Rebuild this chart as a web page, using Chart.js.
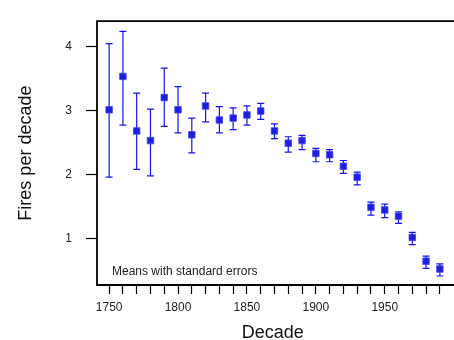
<!DOCTYPE html>
<html>
<head>
<meta charset="utf-8">
<style>
  html, body { margin: 0; padding: 0; background: #fff; }
  #wrap { width: 454px; height: 340px; }
</style>
<script src="https://cdn.jsdelivr.net/npm/chart.js@4"></script>
</head>
<body>
<div id="wrap"><canvas id="myChart" width="454" height="340"></canvas></div>
<script>
// decades and mean fires per decade, with the ends of the standard error bars
const decades = [1750, 1760, 1770, 1780, 1790, 1800, 1810, 1820, 1830, 1840, 1850, 1860, 1870,
                 1880, 1890, 1900, 1910, 1920, 1930, 1940, 1950, 1960, 1970, 1980, 1990];
const means = [3.01, 3.53, 2.68, 2.53, 3.20, 3.01, 2.62, 3.07, 2.85, 2.88, 2.93, 2.99, 2.68,
               2.49, 2.53, 2.33, 2.31, 2.13, 1.96, 1.49, 1.45, 1.35, 1.02, 0.65, 0.53];
const upper = [4.04, 4.23, 3.27, 3.02, 3.66, 3.37, 2.88, 3.27, 3.06, 3.04, 3.07, 3.11, 2.79,
               2.59, 2.61, 2.41, 2.39, 2.22, 2.04, 1.57, 1.54, 1.42, 1.10, 0.73, 0.61];
const lower = [1.96, 2.77, 2.08, 1.98, 2.75, 2.65, 2.34, 2.82, 2.65, 2.70, 2.77, 2.86, 2.56,
               2.35, 2.39, 2.20, 2.20, 2.02, 1.84, 1.37, 1.33, 1.24, 0.91, 0.54, 0.42];
const yTicks = [1, 2, 3, 4];
const xLabelYears = [1750, 1800, 1850, 1900, 1950];

const fontFam = "'Liberation Sans', Arial, sans-serif";

// error bars drawn under the points
const errorBars = {
    id: 'errorBars',
    beforeDatasetsDraw(chart) {
        const ctx = chart.ctx;
        const xs = chart.scales.x, ys = chart.scales.y;
        ctx.save();
        ctx.strokeStyle = '#1414f0';
        ctx.lineWidth = 1.2;
        decades.forEach((d, i) => {
            const x = xs.getPixelForValue(d);
            const yt = ys.getPixelForValue(upper[i]);
            const yb = ys.getPixelForValue(lower[i]);
            ctx.beginPath();
            ctx.moveTo(x, yt); ctx.lineTo(x, yb);
            ctx.moveTo(x - 3.5, yt); ctx.lineTo(x + 3.5, yt);
            ctx.moveTo(x - 3.5, yb); ctx.lineTo(x + 3.5, yb);
            ctx.stroke();
        });
        ctx.restore();
    }
};

// open box: left, top and bottom lines, plus the note in the corner
const frame = {
    id: 'frame',
    afterDraw(chart) {
        const ctx = chart.ctx;
        const a = chart.chartArea;
        ctx.save();
        ctx.strokeStyle = '#000';
        ctx.lineWidth = 1.8;
        ctx.beginPath();
        ctx.moveTo(chart.width, a.top);
        ctx.lineTo(a.left, a.top);
        ctx.lineTo(a.left, a.bottom);
        ctx.lineTo(chart.width, a.bottom);
        ctx.stroke();
        ctx.fillStyle = '#222';
        ctx.font = '12px ' + fontFam;
        ctx.textBaseline = 'middle';
        ctx.fillText('Means with standard errors', a.left + 15, a.bottom - 13);
        ctx.restore();
    }
};

const ctx = document.getElementById('myChart').getContext('2d');
const myChart = new Chart(ctx, {
    type: 'scatter',
    data: {
        datasets: [{
            data: decades.map((d, i) => ({ x: d, y: means[i] })),
            pointStyle: 'rect',
            pointRadius: 4.6,
            backgroundColor: 'rgb(30, 30, 225)',
            borderColor: 'rgba(70, 70, 240, 0.8)',
            borderWidth: 1
        }]
    },
    options: {
        responsive: false,
        animation: false,
        layout: { padding: { top: 11, left: 0, right: 0, bottom: 0 } },
        plugins: {
            legend: { display: false },
            tooltip: { enabled: false }
        },
        scales: {
            x: {
                type: 'linear',
                min: 1741.2,
                max: 1996.2,
                afterFit: (s) => { s.height = 55; },
                afterBuildTicks: (s) => { s.ticks = decades.map(v => ({ value: v })); },
                grid: { display: true, drawOnChartArea: false, drawTicks: true, tickLength: 9, tickColor: '#000', tickWidth: 1.2 },
                border: { display: false },
                ticks: {
                    autoSkip: false,
                    maxRotation: 0,
                    padding: 6,
                    color: '#222',
                    font: { family: fontFam, size: 12 },
                    callback: (v) => xLabelYears.includes(v) ? String(v) : ''
                },
                title: {
                    display: true,
                    text: 'Decade',
                    color: '#111',
                    font: { family: fontFam, size: 18, lineHeight: 0.8 },
                    padding: 0
                }
            },
            y: {
                min: 0.28,
                max: 4.39,
                afterFit: (s) => { s.width = 97; },
                afterBuildTicks: (s) => { s.ticks = yTicks.map(v => ({ value: v })); },
                grid: { display: true, drawOnChartArea: false, drawTicks: true, tickLength: 11, tickColor: '#000', tickWidth: 1.2 },
                border: { display: false },
                ticks: {
                    padding: 14,
                    color: '#222',
                    font: { family: fontFam, size: 12 }
                },
                title: {
                    display: true,
                    text: 'Fires per decade',
                    color: '#111',
                    font: { family: fontFam, size: 18, lineHeight: 1 },
                    padding: { top: 17, bottom: 0 }
                }
            }
        }
    },
    plugins: [errorBars, frame]
});
</script>
</body>
</html>
